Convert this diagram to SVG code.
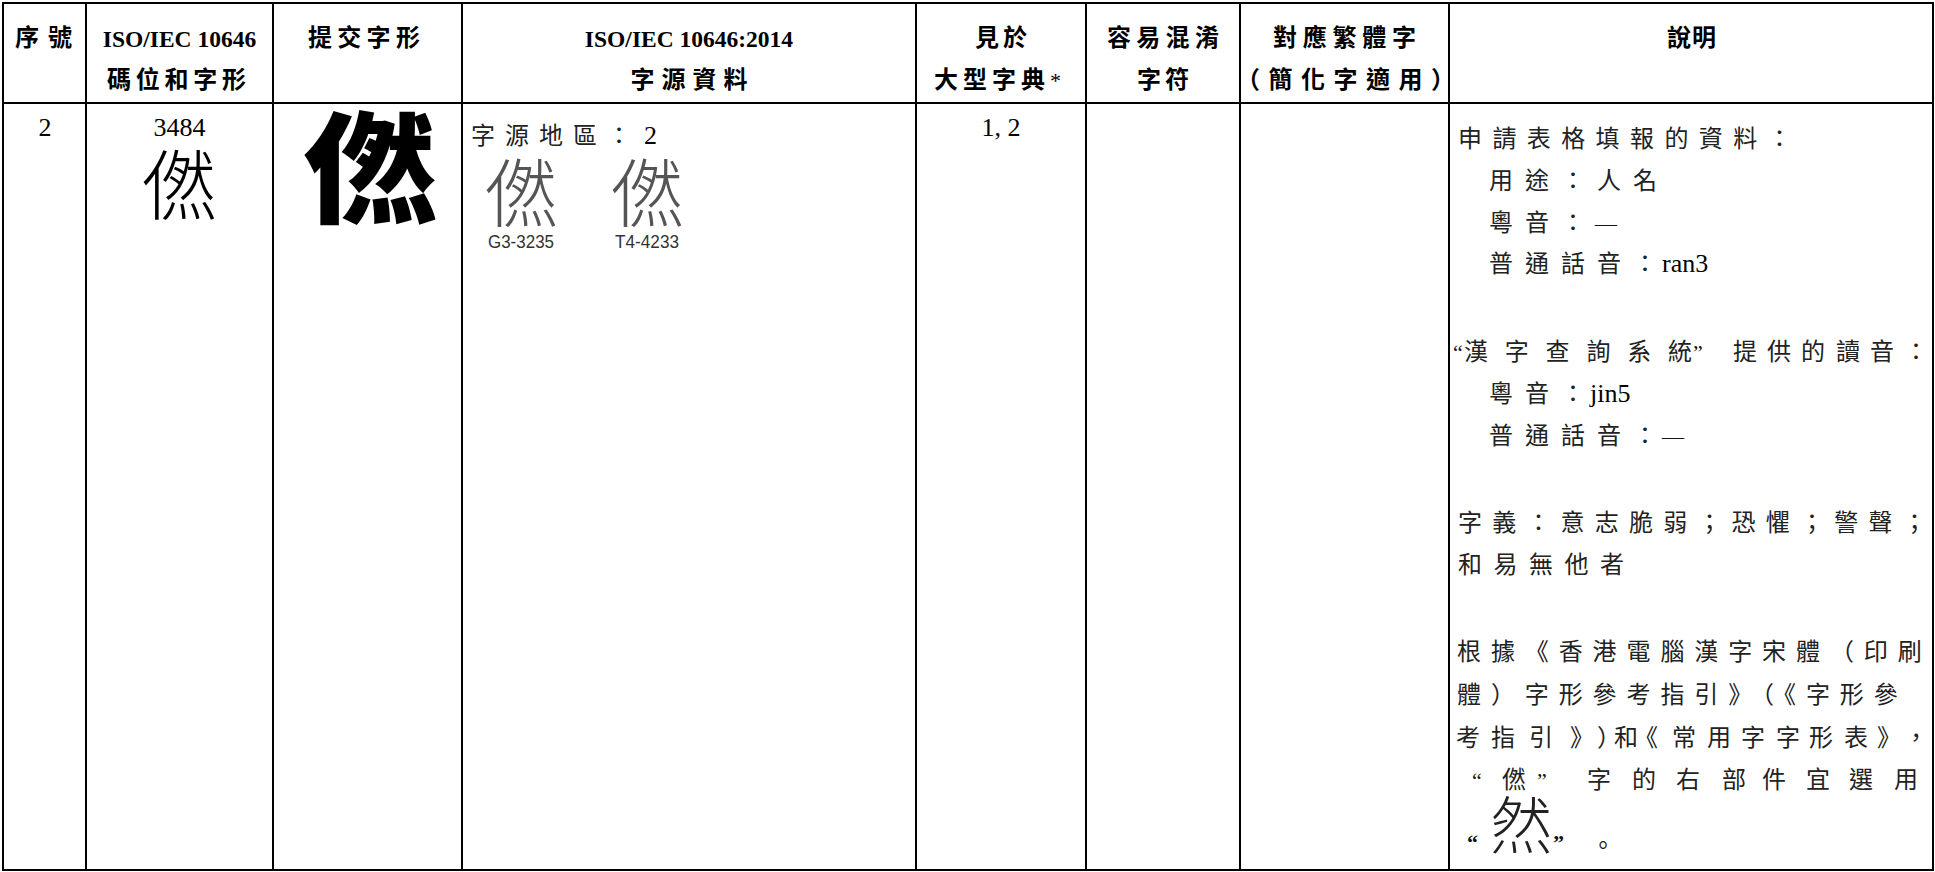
<svg xmlns="http://www.w3.org/2000/svg" width="1935" height="872" viewBox="0 0 1935 872">
<style>
.ln{stroke:#000;stroke-width:2;fill:none}
.hz{font-family:"Noto Sans CJK TC","Noto Sans CJK SC",sans-serif;font-weight:700;font-size:24px;fill:#000}
.hl{font-family:"Liberation Serif",serif;font-weight:700;font-size:23.5px;fill:#000}
.num{font-family:"Liberation Serif",serif;font-size:26px;fill:#000}
.cj{font-family:"Noto Sans CJK TC","Noto Sans CJK SC",sans-serif;font-size:24px;font-weight:400;fill:#222}
.q{font-family:"Liberation Serif",serif;font-size:22px;fill:#111}
.big{font-family:"Noto Sans CJK TC","Noto Sans CJK SC",sans-serif;font-weight:300}
.lbl{font-family:"Liberation Sans Narrow","Liberation Sans",sans-serif;font-size:18px;fill:#333}
</style>
<rect width="1935" height="872" fill="#fff"/>
<g id="grid">
<rect class="ln" x="3" y="3" width="1930" height="867"/>
<line class="ln" x1="3" y1="103" x2="1933" y2="103"/>
<line class="ln" x1="86" y1="3" x2="86" y2="870"/>
<line class="ln" x1="273" y1="3" x2="273" y2="870"/>
<line class="ln" x1="462" y1="3" x2="462" y2="870"/>
<line class="ln" x1="916" y1="3" x2="916" y2="870"/>
<line class="ln" x1="1086" y1="3" x2="1086" y2="870"/>
<line class="ln" x1="1240" y1="3" x2="1240" y2="870"/>
<line class="ln" x1="1449" y1="3" x2="1449" y2="870"/>
</g>
<g id="header">
<text class="hz" x="15" y="46" letter-spacing="9">序號</text>
<text class="hl" x="179.5" y="47" text-anchor="middle">ISO/IEC 10646</text>
<text class="hz" x="107" y="87.5" letter-spacing="4.75">碼位和字形</text>
<text class="hz" x="308" y="46" letter-spacing="5.3">提交字形</text>
<text class="hl" x="689" y="47" text-anchor="middle">ISO/IEC 10646:2014</text>
<text class="hz" x="630.5" y="87.5" letter-spacing="7">字源資料</text>
<text class="hz" x="975" y="46" letter-spacing="4">見於</text>
<text class="hz" x="934" y="87.5" letter-spacing="5">大型字典<tspan font-family="Liberation Serif" font-weight="400" font-size="22" letter-spacing="0">*</tspan></text>
<text class="hz" x="1107" y="46" letter-spacing="5.3">容易混淆</text>
<text class="hz" x="1137" y="87.5" letter-spacing="4">字符</text>
<text class="hz" x="1273" y="46" letter-spacing="5.75">對應繁體字</text>
<text class="hz" x="1236" y="87.5" letter-spacing="8.5">（簡化字適用）</text>
<text class="hz" x="1667" y="46" letter-spacing="1">說明</text>
</g>
<g id="cell-seq">
<text class="num" x="45" y="136" text-anchor="middle">2</text>
</g>
<g id="cell-code">
<text class="num" x="179.5" y="136" text-anchor="middle">3484</text>
<text class="big" x="180" y="214" text-anchor="middle" font-size="76" fill="#000">&#x3484;</text>
</g>
<g id="cell-submitted">
<text transform="translate(370 214) scale(1.12 1)" text-anchor="middle" font-family="Noto Sans CJK TC, Noto Sans CJK SC, sans-serif" font-weight="900" font-size="120" fill="#000">&#x3484;</text>
</g>
<g id="cell-source">
<text class="cj" x="471" y="144" letter-spacing="10" fill="#333">字源地區：</text>
<text class="num" x="644" y="144">2</text>
<text class="big" x="522" y="221" text-anchor="middle" font-size="74" fill="#555">&#x3484;</text>
<text class="big" x="648" y="221" text-anchor="middle" font-size="74" fill="#555">&#x3484;</text>
<text class="lbl" x="521" y="248" text-anchor="middle" textLength="66" lengthAdjust="spacingAndGlyphs">G3-3235</text>
<text class="lbl" x="647" y="248" text-anchor="middle" textLength="64" lengthAdjust="spacingAndGlyphs">T4-4233</text>
</g>
<g id="cell-dict">
<text class="num" x="1001" y="136" text-anchor="middle">1, 2</text>
</g>
<g id="cell-confusable"></g>
<g id="cell-trad"></g>
<g id="cell-notes">
<text class="cj" x="1458" y="147" letter-spacing="10.4">申請表格填報的資料：</text>
<text class="cj" x="1489" y="189" letter-spacing="12">用途：人名</text>
<text class="cj" x="1489" y="231" letter-spacing="12">粵音：</text>
<text class="q" x="1595" y="231" font-size="20">—</text>
<text class="cj" x="1489" y="272" letter-spacing="12">普通話音：</text>
<text class="num" x="1662" y="272">ran3</text>
<text class="q" x="1453" y="360">“</text>
<text class="cj" x="1464 1504.8 1545.6 1586.4 1627.2 1668" y="360">漢字查詢系統</text>
<text class="q" x="1693" y="360">”</text>
<text class="cj" x="1733 1767 1801 1836 1870 1904" y="360">提供的讀音：</text>
<text class="cj" x="1489" y="402" letter-spacing="12">粵音：</text>
<text class="num" x="1590" y="402">jin5</text>
<text class="cj" x="1489" y="444" letter-spacing="12">普通話音：</text>
<text class="q" x="1662" y="444" font-size="20">—</text>
<text class="cj" x="1458" y="531" letter-spacing="10.2">字義：意志脆弱；恐懼；警聲；</text>
<text class="cj" x="1458" y="573" letter-spacing="11.5">和易無他者</text>
<text class="cj" x="1457" y="660" letter-spacing="9.9">根據《香港電腦漢字宋體（印刷</text>
<text class="cj" x="1457" y="703" letter-spacing="9.9">體）字形參考指引》（《字形參</text>
<text class="cj" x="1456 1491 1529 1570 1597 1614 1634 1672 1707 1741 1776 1809 1844 1877 1904" y="746">考指引》）和《常用字字形表》，</text>
<text class="q" x="1472" y="788">“</text>
<text class="cj" x="1502" y="788" fill="#666">&#x3484;</text>
<text class="q" x="1537" y="788">”</text>
<text class="cj" x="1587 1632 1676 1722 1762 1806 1849 1894" y="788">字的右部件宜選用</text>
<text class="q" x="1467" y="850" font-weight="700">“</text>
<text class="big" x="1521" y="849" text-anchor="middle" font-size="62" fill="#222">然</text>
<text class="q" x="1553" y="850" font-weight="700">”</text>
<text class="cj" x="1591" y="854">。</text>
</g>
</svg>
